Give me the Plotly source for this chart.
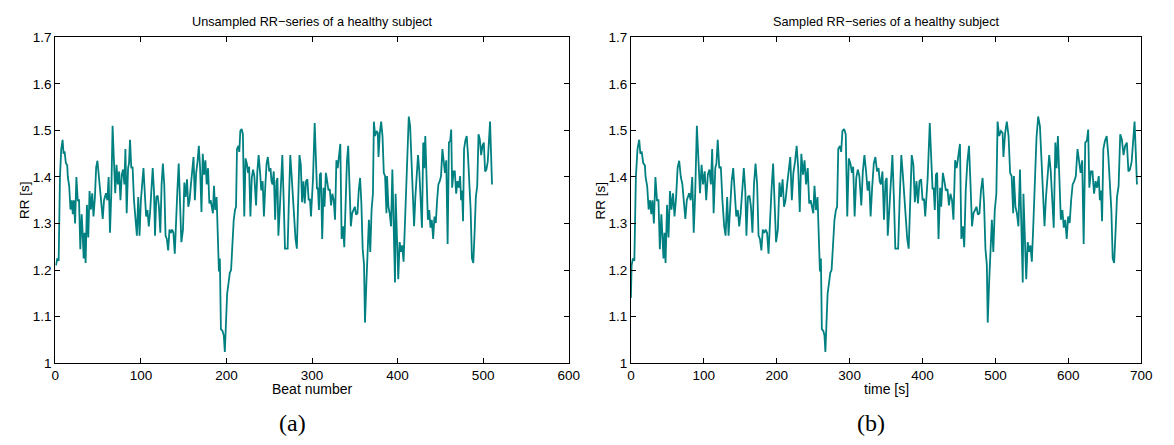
import numpy as np
import plotly.graph_objects as go

# ---- data (beat number, RR interval in s) ----
beats = [
    0.8, 2.3, 3.9, 5.4, 6.9, 8.5, 9.6, 10.8, 12.3, 13.9, 14.6, 16.2, 17.7, 19.2, 20.4, 21.6, 23.1, 24.6,
    26.2, 27.7, 29.2, 30.8, 31.9, 33.1, 34.2, 35.4, 36.9, 38.5, 40.0, 41.5, 43.1, 44.6, 46.2, 47.7, 49.2,
    50.8, 52.3, 53.9, 55.4, 56.9, 59.2, 60.8, 62.3, 63.9, 65.4, 66.9, 68.5, 70.0,
    71.5, 73.0, 74.6, 76.1, 77.7, 79.2, 80.7, 81.9, 83.4, 85.0, 86.1, 87.3, 88.8, 90.3, 91.9, 93.8, 95.3,
    96.9, 98.4, 100.0, 101.5, 103.0, 104.6, 106.1, 107.7, 109.2, 110.7, 112.3, 113.8, 115.3, 116.5, 118.0,
    119.6, 121.1, 122.7, 124.2, 125.7, 127.3, 128.8, 130.3, 131.9, 133.4, 135.0, 136.5, 138.0, 139.6, 141.1,
    142.7, 144.2, 145.7, 147.3,
    149.2, 150.8, 152.3, 153.9, 155.4, 156.9, 158.5, 160.0, 161.5, 163.1, 164.6, 166.2, 167.7, 169.2, 170.8,
    172.3, 173.9, 175.4, 176.9, 178.5, 180.0, 181.5, 183.1, 184.2, 185.4, 186.9, 188.5, 190.0, 191.2, 192.3,
    193.5, 195.4, 196.9, 198.1, 199.6, 200.8, 202.3, 203.9, 205.4, 206.9, 208.5, 210.0, 211.2, 212.3, 213.9,
    215.0, 216.2, 217.7, 219.2, 220.8, 222.3,
    223.8, 225.3, 226.5, 228.0, 229.6, 231.1, 232.6, 234.6, 236.1, 237.6, 239.2, 240.7, 242.3, 243.8, 245.3,
    246.9, 248.4, 250.0, 251.5, 252.6, 253.8, 255.3, 256.9, 258.4, 259.6, 260.7, 262.3, 263.8, 265.3, 266.9,
    268.4, 270.0, 271.5, 273.0, 274.6, 276.1, 277.6, 279.2, 280.7, 282.3, 283.8, 285.3, 286.9, 288.4, 290.0,
    291.5, 293.0, 294.6, 296.1, 297.6, 298.8,
    301.2, 303.1, 304.6, 305.8, 306.9, 308.1, 309.2, 310.4, 311.9, 313.5, 314.6, 316.2, 317.7, 319.2, 320.8,
    322.3, 323.8, 325.4, 326.9, 328.5, 330.0, 331.5, 333.1, 334.6, 336.2, 337.7, 339.2, 340.8, 342.3, 343.8,
    345.4, 346.9, 348.5, 350.0, 351.5, 353.1, 354.6, 356.2, 357.7, 359.2, 360.8, 361.9, 363.5, 365.0, 366.5,
    368.1, 369.6, 371.2, 372.3, 373.8, 375.4, 376.9,
    377.7, 379.3, 380.8, 382.4, 383.9, 385.4, 387.0, 387.7, 389.3, 390.8, 392.4, 393.9, 395.4, 397.0, 397.7,
    399.3, 400.8, 402.4, 403.9, 405.4, 407.0, 408.5, 410.0, 411.6, 413.1, 414.7, 416.2, 417.7, 419.3, 420.8,
    422.4, 423.9, 425.4, 427.0, 428.5, 430.0, 431.2, 432.4, 433.9, 435.4, 437.0, 438.5, 440.0, 441.6, 443.1,
    444.7, 446.2, 447.7, 449.3, 450.8, 452.4,
    453.8, 455.4, 456.9, 458.5, 460.0, 461.5, 462.7, 463.8, 465.4, 466.9, 468.5, 470.0, 471.5, 473.1, 474.2,
    475.4, 476.5, 477.7, 479.2, 480.8, 482.3, 483.8, 485.4, 486.9, 488.5, 490.0, 491.5, 493.1, 494.6, 496.1,
    497.7, 499.2, 500.8, 502.3, 503.8, 505.4, 506.9, 508.1, 509.2, 510.4,
]
rr = [
    1.21, 1.225, 1.22, 1.40, 1.46, 1.48, 1.45, 1.455, 1.43, 1.425, 1.40, 1.38, 1.33, 1.35, 1.32, 1.35, 1.30, 1.40,
    1.35, 1.35, 1.245, 1.32, 1.28, 1.225, 1.28, 1.215, 1.34, 1.27, 1.37, 1.33, 1.365, 1.315, 1.355, 1.42, 1.435,
    1.40, 1.385, 1.35, 1.31, 1.35, 1.365, 1.35, 1.40, 1.28, 1.365, 1.51, 1.42, 1.365,
    1.426, 1.384, 1.412, 1.35, 1.405, 1.416, 1.384, 1.46, 1.322, 1.419, 1.429, 1.48, 1.419, 1.422, 1.35, 1.294, 1.274,
    1.357, 1.274, 1.35, 1.391, 1.419, 1.364, 1.315, 1.329, 1.294, 1.322, 1.377, 1.419, 1.37, 1.274, 1.357,
    1.36, 1.336, 1.28, 1.384, 1.429, 1.384, 1.274, 1.267, 1.242, 1.287, 1.28, 1.287, 1.28, 1.235, 1.315,
    1.374, 1.429, 1.35, 1.26,
    1.287, 1.388, 1.357, 1.395, 1.336, 1.35, 1.384, 1.412, 1.443, 1.35, 1.409, 1.433, 1.467, 1.419, 1.325,
    1.45, 1.405, 1.436, 1.384, 1.419, 1.343, 1.35, 1.336, 1.322, 1.381, 1.329, 1.357, 1.239, 1.197, 1.225,
    1.073, 1.069, 1.059, 1.024, 1.10, 1.149, 1.17, 1.194, 1.20, 1.253, 1.308, 1.329, 1.336, 1.46, 1.467,
    1.454, 1.499, 1.503, 1.492, 1.315, 1.44,
    1.429, 1.409, 1.422, 1.315, 1.398, 1.416, 1.402, 1.339, 1.412, 1.447, 1.412, 1.371, 1.391, 1.315, 1.377,
    1.429, 1.443, 1.412, 1.419, 1.391, 1.384, 1.412, 1.308, 1.391, 1.398, 1.274, 1.329, 1.388, 1.447, 1.35,
    1.246, 1.246, 1.246, 1.35, 1.447, 1.405, 1.35, 1.294, 1.267, 1.246, 1.35, 1.447, 1.426, 1.346, 1.391,
    1.343, 1.391, 1.395, 1.35, 1.353, 1.315,
    1.398, 1.516, 1.419, 1.374, 1.377, 1.329, 1.405, 1.409, 1.267, 1.377, 1.336, 1.409, 1.391, 1.371, 1.374,
    1.339, 1.364, 1.35, 1.308, 1.436, 1.419, 1.447, 1.471, 1.267, 1.294, 1.249, 1.371, 1.433, 1.467, 1.384,
    1.294, 1.322, 1.329, 1.336, 1.319, 1.322, 1.371, 1.398, 1.343, 1.246, 1.211, 1.087, 1.17, 1.239, 1.308,
    1.239, 1.329, 1.364, 1.519, 1.488, 1.499, 1.495,
    1.443, 1.495, 1.519, 1.488, 1.409, 1.402, 1.322, 1.402, 1.336, 1.322, 1.294, 1.416, 1.294, 1.173, 1.364,
    1.28, 1.18, 1.26, 1.239, 1.253, 1.218, 1.294, 1.384, 1.485, 1.53, 1.509, 1.436, 1.364, 1.294, 1.357,
    1.398, 1.447, 1.412, 1.35, 1.291, 1.474, 1.419, 1.488, 1.384, 1.308, 1.329, 1.291, 1.308, 1.267, 1.315,
    1.301, 1.35, 1.384, 1.391, 1.402, 1.46,
    1.433, 1.409, 1.436, 1.256, 1.474, 1.478, 1.502, 1.377, 1.412, 1.412, 1.364, 1.391, 1.377, 1.402, 1.35,
    1.371, 1.305, 1.46, 1.478, 1.488, 1.447, 1.384, 1.329, 1.225, 1.215, 1.28, 1.357, 1.381, 1.492, 1.481,
    1.447, 1.467, 1.474, 1.412, 1.416, 1.433, 1.474, 1.519, 1.454, 1.384,
]
sampled_start = [1.14]   # value of the resampled series at t = 0

x_ticks_a = [0, 100, 200, 300, 400, 500, 600]
x_ticks_b = [0, 100, 200, 300, 400, 500, 600, 700]
y_ticks = [1.0, 1.1, 1.2, 1.3, 1.4, 1.5, 1.6, 1.7]
y_tick_text = ["1", "1.1", "1.2", "1.3", "1.4", "1.5", "1.6", "1.7"]

# time of each beat = cumulative sum of RR intervals
b = np.array(beats)
v = np.array(rr)
steps = np.diff(np.concatenate([[0.0], b])) * v
t = np.cumsum(steps)
t_s = np.concatenate([[0.0], t])
v_s = np.concatenate([sampled_start, v])

W, H = 1174, 445
COLOR = "#008080"
FONT = "Liberation Sans"

fig = go.Figure()
fig.add_trace(go.Scatter(x=b, y=v, mode="lines", line=dict(color=COLOR, width=1.8),
                         xaxis="x", yaxis="y", showlegend=False))
fig.add_trace(go.Scatter(x=t_s, y=v_s, mode="lines", line=dict(color=COLOR, width=1.8),
                         xaxis="x2", yaxis="y2", showlegend=False))


def px(xp):
    return xp / W


def py(yp):
    return 1 - yp / H


ax_common = dict(showline=True, linecolor="black", linewidth=1, mirror="ticks", ticks="inside",
                 ticklen=5, tickcolor="black", showgrid=False, zeroline=False,
                 tickfont=dict(family=FONT, size=13.5, color="black"))

L0, L1 = 52, 572
R0, R1 = 635, 1152
T0, B0 = 31.5, 368.5

fig.update_layout(
    width=W, height=H, margin=dict(l=0, r=0, t=0, b=0),
    paper_bgcolor="white", plot_bgcolor="white",
    xaxis=dict(domain=[px(L0), px(L1)], range=[0, 600], tickvals=x_ticks_a, anchor="y", **ax_common),
    yaxis=dict(domain=[py(B0), py(T0)], range=[1, 1.7], tickvals=y_ticks, ticktext=y_tick_text,
               anchor="x", **ax_common),
    xaxis2=dict(domain=[px(R0), px(R1)], range=[0, 700], tickvals=x_ticks_b, anchor="y2", **ax_common),
    yaxis2=dict(domain=[py(B0), py(T0)], range=[1, 1.7], tickvals=y_ticks, ticktext=y_tick_text,
                anchor="x2", **ax_common),
)


def ann(text, x, y, size=12, family=FONT, angle=0):
    fig.add_annotation(text=text, x=px(x), y=py(y), xref="paper", yref="paper",
                       showarrow=False, xanchor="center", yanchor="middle", textangle=angle,
                       font=dict(family=family, size=size, color="black"))


ann("Unsampled RR\u2212series of a healthy subject", (L0 + L1) / 2, 16, size=12.7)
ann("Sampled RR\u2212series of a healthy subject", (R0 + R1) / 2, 16, size=12.7)
ann("RR [s]", 21, 200, size=13.5, angle=-90)
ann("RR [s]", 604, 200, size=13.5, angle=-90)
ann("Beat number", (L0 + L1) / 2, 395, size=14)
ann("time [s]", (R0 + R1) / 2, 395, size=14)
ann("(a)", 292, 430, size=24, family="Liberation Serif")
ann("(b)", 878, 430, size=24, family="Liberation Serif")

fig.write_html("out.html")
